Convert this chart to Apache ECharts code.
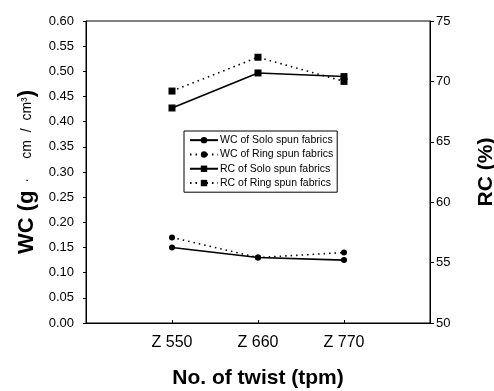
<!DOCTYPE html>
<html><head><meta charset="utf-8">
<script src="https://cdn.jsdelivr.net/npm/echarts@6/dist/echarts.min.js"></script>
<style>html,body{margin:0;padding:0;background:#fff}#c{width:494px;height:391px}</style>
</head><body><div id="c"></div>
<script>
const categories = ['', 'Z 550', 'Z 660', 'Z 770', ''];
const wcSolo = [null, 0.15, 0.13, 0.125, null];
const wcRing = [null, 0.17, 0.13, 0.14, null];
const rcSolo = [null, 67.8, 70.7, 70.4, null];
const rcRing = [null, 69.2, 72.0, 70.0, null];
const seriesNames = ['WC of Solo spun fabrics', 'WC of Ring spun fabrics', 'RC of Solo spun fabrics', 'RC of Ring spun fabrics'];

const chart = echarts.init(document.getElementById('c'));
const font = 'Arial, "Liberation Sans", sans-serif';
function s(name, data, yi, sym, dotted) {
  return {
    name, type: 'line', data, yAxisIndex: yi, symbol: sym,
    symbolSize: sym === 'rect' ? 7 : 6, connectNulls: false,
    itemStyle: { color: '#000' },
    lineStyle: { color: '#000', width: 1.6, type: dotted ? [1.5, 4] : 'solid' },
    animation: false
  };
}
chart.setOption({
  animation: false,
  grid: { left: 86, right: 64, top: 21, bottom: 68, show: true, borderColor: '#000', borderWidth: 1,
    outerBoundsMode: 'none', containLabel: false },
  legend: {
    left: 184, top: 131, orient: 'vertical', itemGap: 2, itemWidth: 28, itemHeight: 8,
    padding: [3, 4, 3, 5], borderColor: '#000', borderWidth: 1, backgroundColor: '#fff',
    textStyle: { fontFamily: font, fontSize: 10.5, lineHeight: 12.3, color: '#000', padding: [0, 0, 0, -3] },
    data: seriesNames
  },
  xAxis: {
    type: 'category', data: categories, boundaryGap: false,
    axisLine: { lineStyle: { color: '#000' } },
    axisTick: { show: true, inside: true, length: 3, lineStyle: { color: '#000' },
      interval: (i) => i > 0 && i < 4 },
    axisLabel: { fontFamily: font, fontSize: 16, color: '#000', margin: 12, interval: 0 },
    name: 'No. of twist (tpm)', nameLocation: 'middle', nameGap: 45,
    nameTextStyle: { fontFamily: font, fontSize: 21, fontWeight: 'bold', color: '#000' }
  },
  yAxis: [
    {
      type: 'value', min: 0, max: 0.6, interval: 0.05, position: 'left',
      axisLine: { show: true, lineStyle: { color: '#000' } },
      axisTick: { show: true, length: 3, lineStyle: { color: '#000' } },
      splitLine: { show: false },
      axisLabel: { fontFamily: font, fontSize: 13, color: '#000', margin: 12, formatter: v => v.toFixed(2) },
      name: '{b|WC (g}{s|  ·     cm  /  cm³}{b|)}', nameLocation: 'middle', nameGap: 36, nameRotate: 90,
      nameTextStyle: { rich: {
        b: { fontFamily: font, fontSize: 22, fontWeight: 'bold', color: '#000' },
        s: { fontFamily: font, fontSize: 14, color: '#000' } } }
    },
    {
      type: 'value', min: 50, max: 75, interval: 5, position: 'right',
      axisLine: { show: true, lineStyle: { color: '#000' } },
      axisTick: { show: true, length: 4, lineStyle: { color: '#000' } },
      splitLine: { show: false },
      axisLabel: { fontFamily: font, fontSize: 13, color: '#000', margin: 6 },
      name: 'RC (%)', nameLocation: 'middle', nameGap: 46, nameRotate: 90,
      nameTextStyle: { fontFamily: font, fontSize: 21, fontWeight: 'bold', color: '#000' }
    }
  ],
  series: [
    s(seriesNames[0], wcSolo, 0, 'circle', false),
    s(seriesNames[1], wcRing, 0, 'circle', true),
    s(seriesNames[2], rcSolo, 1, 'rect', false),
    s(seriesNames[3], rcRing, 1, 'rect', true)
  ]
});
</script></body></html>
